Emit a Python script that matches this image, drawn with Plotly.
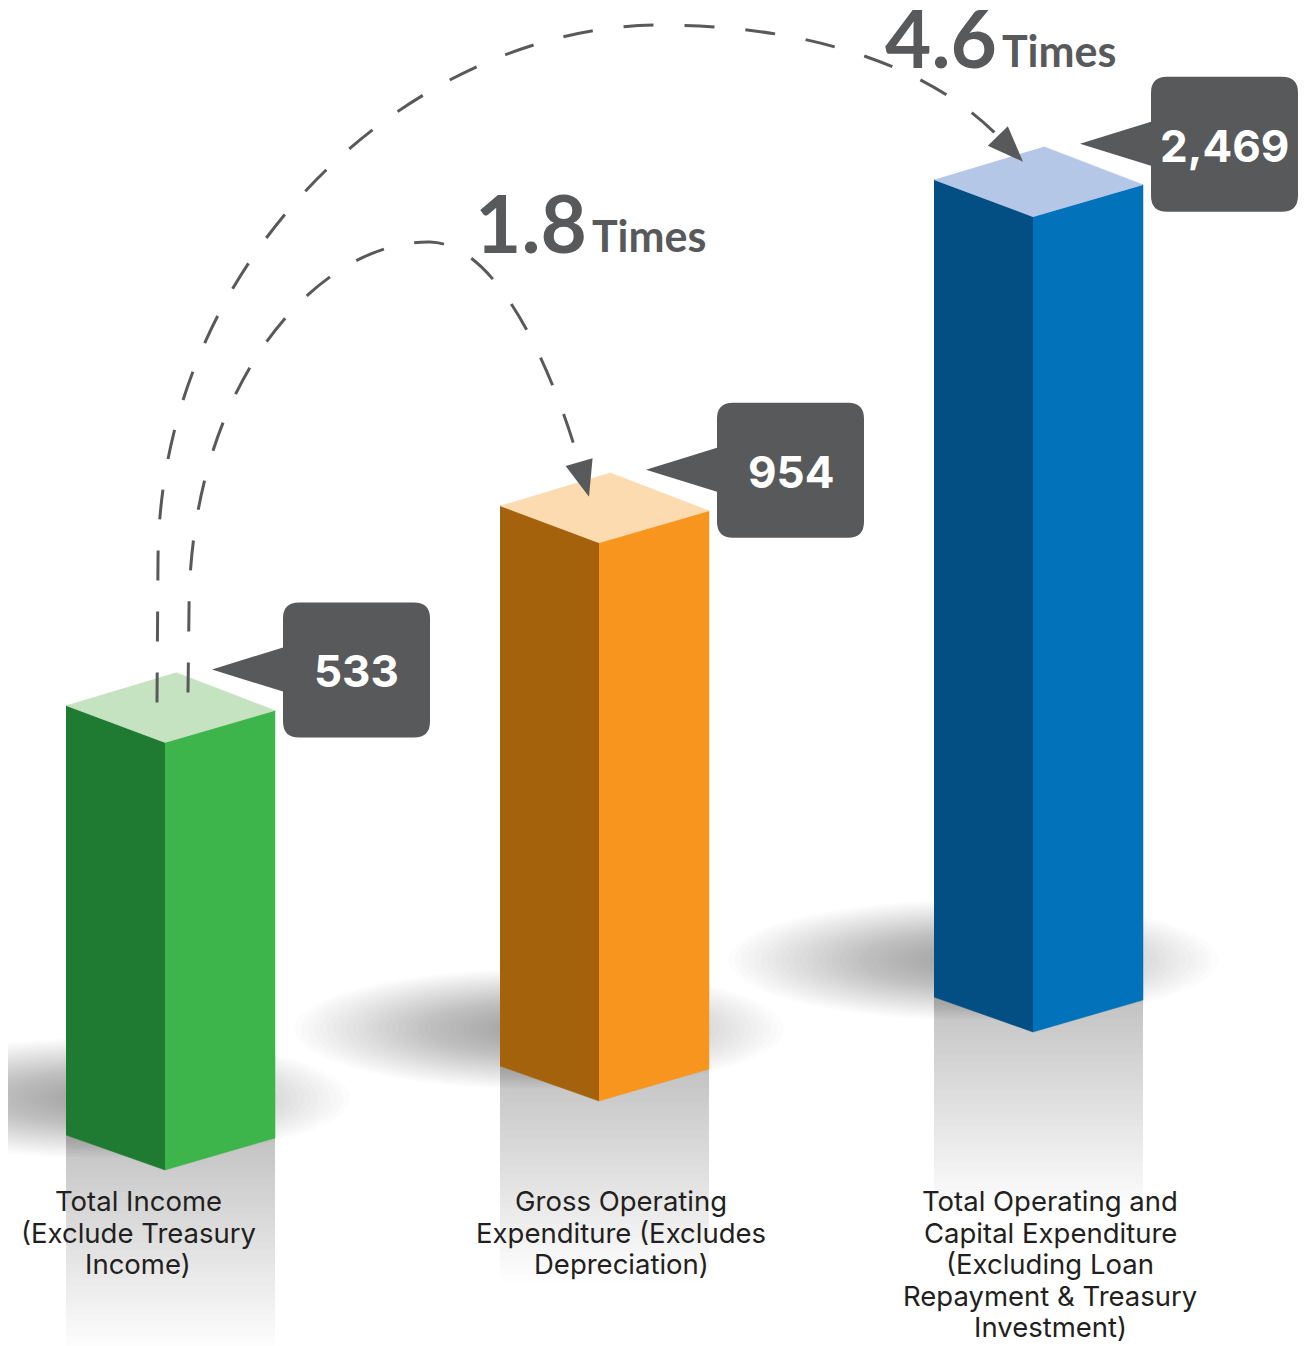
import numpy as np
import plotly.graph_objects as go

# ---- data ----
categories = [
    "Total Income<br>(Exclude Treasury<br>Income)",
    "Gross Operating<br>Expenditure (Excludes<br>Depreciation)",
    "Total Operating and<br>Capital Expenditure<br>(Excluding Loan<br>Repayment & Treasury<br>Investment)",
]
values = [533, 954, 2469]
compare_to = [1, 2]  # bars compared with the first one ("x Times")

# ---- styles ----
left_colors = ["#1f7b32", "#a4620d", "#034e82"]
right_colors = ["#3db54b", "#f7951f", "#0272bb"]
top_colors = ["#c6e3c1", "#fddbb1", "#b5c7e6"]
dark = "#58595b"
label_dx = [-27, 22, 17]
ratio_pos = [(588, 253), (998, 68)]  # right edge / baseline of the ratio number

W, H = 1307, 1346
OFF = 8  # page body margin
FW, FH = W - OFF, H - OFF
STEP = 434
X_RANGE = [-(165 - OFF) / STEP, (FW - 165 + OFF) / STEP]
Y_RANGE = [3.6567 - FH / 789.8, 3.6567]  # log axis, log10 units


def xpx(x):
    return OFF + (x - X_RANGE[0]) / (X_RANGE[1] - X_RANGE[0]) * FW


def ypx(v):
    return OFF + (Y_RANGE[1] - np.log10(v)) / (Y_RANGE[1] - Y_RANGE[0]) * FH


def yval(py_):
    return 10 ** (Y_RANGE[1] - (py_ - OFF) / FH * (Y_RANGE[1] - Y_RANGE[0]))


def px(x):
    return (x - OFF) / FW


def py(y):
    return 1 - (y - OFF) / FH


def pt(x, y):
    return f"{px(x):.5f},{py(y):.5f}"


fig = go.Figure()
shapes = []
annotations = []

LW, RW, BK = 99 / STEP, 110 / STEP, 11 / STEP
tops = []
for i, v in enumerate(values):
    top = ypx(v)
    tops.append(top)
    floor = 1170 - 69 * i
    xl, xr, xb = i - LW, i + RW, i + BK
    faces = [
        ([xl, i, i, xl], [yval(top - 37), v, yval(floor), yval(floor - 35)], left_colors[i]),
        ([i, xr, xr, i], [v, yval(top - 32), yval(floor - 32), yval(floor)], right_colors[i]),
        ([xl, i, xr, xb], [yval(top - 37), v, yval(top - 32), yval(top - 70)], top_colors[i]),
    ]
    for xs, ys, c in faces:
        fig.add_trace(go.Scatter(x=xs, y=ys, fill="toself", fillcolor=c, mode="lines",
                                 line=dict(color=c, width=0.5), hoverinfo="skip", showlegend=False))

    fx = xpx(i)
    # soft shadow behind the bar
    cx, cy = fx - 60, floor - 72
    n = 32
    for k in range(n):
        s = 1 - 0.85 * k / n
        shapes.append(dict(type="circle", xref="paper", yref="paper",
                           x0=px(cx - 245 * s), x1=px(cx + 245 * s),
                           y0=py(cy - 60 * s), y1=py(cy + 60 * s),
                           fillcolor="rgba(85,85,88,0.015)", line_width=0, layer="below"))
    # reflection under the bar (nested rects -> smooth fade)
    n = 30
    for k in range(n):
        hgt = 215 * (k + 1) / n
        shapes.append(dict(type="rect", xref="paper", yref="paper",
                           x0=px(fx - 99), x1=px(fx + 110),
                           y0=py(floor - 35), y1=py(floor - 35 + hgt),
                           fillcolor="rgba(118,118,120,0.0125)", line_width=0, layer="below"))

    # value callout
    tx, ty = fx + 47, top - 73
    L, R, T, B, r = tx + 71, tx + 71 + 147, ty - 67, ty + 68, 16
    d = ("M " + pt(L, ty - 22) + " L " + pt(tx, ty) + " L " + pt(L, ty + 22)
         + " L " + pt(L, B - r) + " Q " + pt(L, B) + " " + pt(L + r, B)
         + " L " + pt(R - r, B) + " Q " + pt(R, B) + " " + pt(R, B - r)
         + " L " + pt(R, T + r) + " Q " + pt(R, T) + " " + pt(R - r, T)
         + " L " + pt(L + r, T) + " Q " + pt(L, T) + " " + pt(L, T + r) + " Z")
    shapes.append(dict(type="path", xref="paper", yref="paper", path=d,
                       fillcolor=dark, line_width=0))
    annotations.append(dict(x=px((L + R) / 2), y=py(ty + 2), xref="paper", yref="paper",
                            text=f"{v:,}", showarrow=False, xanchor="center", yanchor="middle",
                            font=dict(family="Inter", size=44, color="white", weight="bold")))

    # category label, one annotation per line
    for k, line in enumerate(categories[i].split("<br>")):
        annotations.append(dict(x=px(fx + label_dx[i]), y=py(1201 + 31.5 * k), xref="paper", yref="paper",
                                text=line, showarrow=False, xanchor="center", yanchor="middle",
                                font=dict(family="Inter", size=27.5, color="#231f20")))


def arrow_path(start, vlen, c1, c2, apex, c3, tip, d, clen):
    d = np.array(d, float)
    d /= np.linalg.norm(d)
    tip = np.array(tip, float)
    base = tip - 36 * d
    c4 = base - clen * d
    line = ("M " + pt(*start) + " L " + pt(start[0] + 1, start[1] - vlen)
            + " C " + pt(*c1) + " " + pt(*c2) + " " + pt(*apex)
            + " C " + pt(*c3) + " " + pt(*c4) + " " + pt(*base))
    p = np.array([-d[1], d[0]])
    head = ("M " + pt(*tip) + " L " + pt(*(base + 14 * p)) + " L " + pt(*(base - 14 * p)) + " Z")
    return line, head


f0 = xpx(0)
arcs = [
    arrow_path((f0 + 23, tops[0] - 50), tops[0] - 50 - 610, (190, 380), (320, 240), (430, 242),
               (505, 244), (xpx(1) - 10, tops[1] - 46), (10, 35), 70),
    arrow_path((f0 - 8, tops[0] - 40), tops[0] - 40 - 560, (160, 250), (420, 25), (660, 25),
               (820, 25), (xpx(2) - 10, tops[2] - 55), (23, 23.5), 90),
]
for line, head in arcs:
    shapes.append(dict(type="path", xref="paper", yref="paper", path=line,
                       line=dict(color=dark, width=3, dash="30px,31px")))
    shapes.append(dict(type="path", xref="paper", yref="paper", path=head,
                       fillcolor=dark, line_width=0))

# "x Times" labels
for j, (rx, base) in zip(compare_to, ratio_pos):
    ratio = values[j] / values[0]
    annotations.append(dict(x=px(rx), y=py(base + 0.2 * 80 + 2), xref="paper", yref="paper",
                            text=f"{ratio:.1f}", showarrow=False, xanchor="right", yanchor="bottom",
                            borderpad=0,
                            font=dict(family="Lato", size=80, color=dark, weight="bold")))
    annotations.append(dict(x=px(rx + 3), y=py(base + 0.2 * 42 + 1), xref="paper", yref="paper",
                            text="Times", showarrow=False, xanchor="left", yanchor="bottom",
                            borderpad=0,
                            font=dict(family="Lato", size=43, color=dark, weight="bold")))

fig.update_layout(
    width=FW, height=FH,
    margin=dict(l=0, r=0, t=0, b=0),
    paper_bgcolor="white", plot_bgcolor="white",
    xaxis=dict(range=X_RANGE, visible=False),
    yaxis=dict(type="log", range=Y_RANGE, visible=False),
    shapes=shapes, annotations=annotations,
    showlegend=False,
)
fig.write_html("out.html")
